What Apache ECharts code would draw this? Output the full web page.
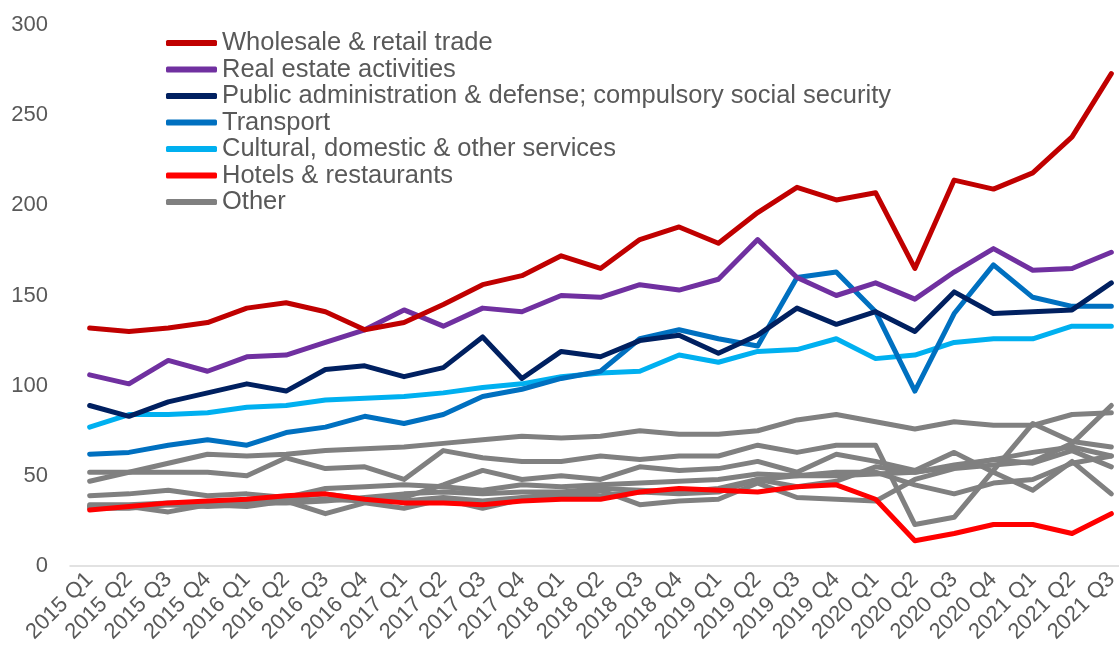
<!DOCTYPE html>
<html>
<head>
<meta charset="utf-8">
<script src="https://cdn.jsdelivr.net/npm/echarts@6/dist/echarts.min.js"></script>
<style>
  html, body { margin: 0; padding: 0; background: #fff; overflow: hidden; }
  #chart { width: 1131px; height: 656px; }
</style>
</head>
<body>
<div id="chart"></div>
<script>
// Quarterly categories
const quarters = [
  '2015 Q1','2015 Q2','2015 Q3','2015 Q4',
  '2016 Q1','2016 Q2','2016 Q3','2016 Q4',
  '2017 Q1','2017 Q2','2017 Q3','2017 Q4',
  '2018 Q1','2018 Q2','2018 Q3','2018 Q4',
  '2019 Q1','2019 Q2','2019 Q3','2019 Q4',
  '2020 Q1','2020 Q2','2020 Q3','2020 Q4',
  '2021 Q1','2021 Q2','2021 Q3'
];

// Highlighted sectors
const wholesaleRetail = [132,130,132,135,143,146,141,131,135,145,156,161,172,165,181,188,179,196,210,203,207,165,214,209,218,238,273];
const realEstate      = [106,101,114,108,116,117,124,131,142,133,143,141,150,149,156,153,159,181,160,150,157,148,163,176,164,165,174];
const publicAdmin     = [89,83,91,96,101,97,109,111,105,110,127,104,119,116,125,128,118,128,143,134,141,130,152,140,141,142,157];
const transport       = [62,63,67,70,67,74,77,83,79,84,94,98,104,108,126,131,126,122,160,163,141,97,140,167,149,144,144];
const cultural        = [77,84,84,85,88,89,92,93,94,96,99,101,105,107,108,117,113,119,120,126,115,117,124,126,126,133,133];
const hotels          = [31,33,35,36,37,39,40,37,35,35,34,36,37,37,41,43,42,41,44,45,37,14,18,23,23,18,29];

// Remaining sectors, all shown as "Other"
const other1 = [47,52,57,62,61,62,64,65,66,68,70,72,71,72,75,73,73,75,81,84,80,76,80,78,78,84,85];
const other2 = [52,52,52,52,50,60,54,55,48,64,60,58,58,61,59,61,61,67,63,67,67,23,27,53,79,69,66];
const other3 = [39,40,42,39,40,38,43,44,45,44,42,45,44,45,46,47,48,51,50,50,51,52,55,59,63,66,61];
const other4 = [34,34,35,35,36,38,40,37,38,45,53,48,50,48,55,53,54,58,52,62,58,53,63,52,42,58,40];
const other5 = [33,33,30,34,33,36,29,35,32,37,32,37,38,42,34,36,37,46,38,37,36,48,54,56,58,68,89];
const other6 = [32,32,34,33,34,36,37,36,36,38,36,38,40,39,41,40,41,48,44,47,55,52,56,59,57,64,55];
const other7 = [33,33,34,34,35,35,36,38,40,41,40,41,41,43,42,41,43,48,50,52,52,45,40,46,48,57,61];

const yTicks = { min: 0, max: 300, interval: 50 };

const named = [
  { name: 'Wholesale & retail trade', data: wholesaleRetail, color: '#C00000' },
  { name: 'Real estate activities', data: realEstate, color: '#7030A0' },
  { name: 'Public administration & defense; compulsory social security', data: publicAdmin, color: '#002060' },
  { name: 'Transport', data: transport, color: '#0070C0' },
  { name: 'Cultural, domestic & other services', data: cultural, color: '#00B0F0' },
  { name: 'Hotels & restaurants', data: hotels, color: '#FF0000' }
];
const others = [other1, other2, other3, other4, other5, other6, other7];
const greyColor = '#808080';
const fontFamily = 'Liberation Sans, Arial, sans-serif';

function lineSeries(name, data, color, z) {
  return {
    name: name,
    type: 'line',
    data: data,
    symbol: 'none',
    smooth: false,
    z: z,
    color: color,
    itemStyle: { color: color },
    lineStyle: { color: color, width: 5, cap: 'round', join: 'round' },
    emphasis: { disabled: true }
  };
}

const series = [];
others.forEach(function (d) { series.push(lineSeries('Other', d, greyColor, 2)); });
named.slice().reverse().forEach(function (s) { series.push(lineSeries(s.name, s.data, s.color, 3)); });

const chart = echarts.init(document.getElementById('chart'), null, { renderer: 'canvas' });
chart.setOption({
  animation: false,
  backgroundColor: '#ffffff',
  textStyle: { fontFamily: fontFamily },
  grid: { left: 70, right: 0, top: 25, bottom: 90, containLabel: false },
  legend: {
    data: named.map(function (s) { return s.name; }).concat(['Other']),
    orient: 'vertical',
    left: 161,
    top: 25,
    icon: 'roundRect',
    itemWidth: 51,
    itemHeight: 6,
    itemGap: 0.5,
    selectedMode: false,
    textStyle: { color: '#595959', fontSize: 25.5, lineHeight: 22, fontFamily: fontFamily }
  },
  xAxis: {
    type: 'category',
    data: quarters,
    boundaryGap: true,
    axisLine: { show: true, lineStyle: { color: '#D9D9D9', width: 1.5 } },
    axisTick: { show: false },
    axisLabel: {
      interval: 0,
      rotate: 45,
      margin: 10,
      color: '#595959',
      fontSize: 22,
      fontFamily: fontFamily
    }
  },
  yAxis: {
    type: 'value',
    min: yTicks.min,
    max: yTicks.max,
    interval: yTicks.interval,
    axisLine: { show: false },
    axisTick: { show: false },
    splitLine: { show: false },
    axisLabel: {
      margin: 22,
      color: '#595959',
      fontSize: 22,
      fontFamily: fontFamily
    }
  },
  series: series
});
</script>
</body>
</html>
